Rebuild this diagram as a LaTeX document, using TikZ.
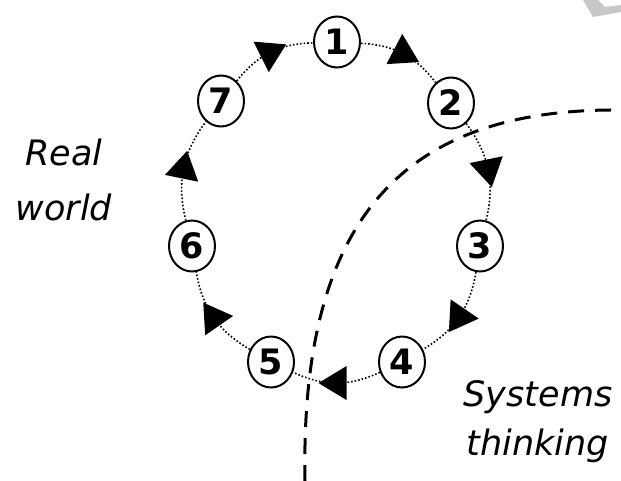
\documentclass[tikz,border=0pt]{standalone}
\usepackage{fontspec}
\setmainfont{DejaVu Sans}
\usetikzlibrary{shapes.geometric,decorations.markings}

\begin{document}
\begin{tikzpicture}[x=1pt,y=-1pt,
  stage/.style={ellipse,draw,line width=2pt,minimum width=46pt,minimum height=51pt,
    inner sep=0pt,font=\fontsize{35}{35}\selectfont\bfseries},
  flow/.style={line width=1.6pt,dash pattern=on 1.6pt off 2pt,
    postaction={decorate,decoration={markings,mark=at position 0.5 with
      {\fill (-10pt,17pt) -- (18pt,0pt) -- (-10pt,-17pt) -- cycle;}}}},
  border/.style={line width=3pt,dash pattern=on 16pt off 11pt},
  caption/.style={align=center,anchor=base,font=\itshape}]
\useasboundingbox (0,0) rectangle (621,480);
% faint mark in the corner
\fill[black!22] (583,0) -- (598,0) -- (605,7) -- (621,5) -- (621,12) -- (593,17) -- cycle;
% boundary of systems thinking, drawn from the bottom edge
\coordinate (foot) at (305,481);
\coordinate (edge) at (621,110);
\draw[border] (foot) .. controls (300,222) and (400,108) .. (edge);
% the seven stages
\node[stage] (s1) at (337,42) {1};
\node[stage] (s2) at (451,103) {2};
\node[stage] (s3) at (480,246) {3};
\node[stage] (s4) at (402,362) {4};
\node[stage] (s5) at (271,362) {5};
\node[stage] (s6) at (192,246) {6};
\node[stage] (s7) at (221,101) {7};
\draw[flow] (s1) to[bend left=25] (s2);
\draw[flow] (s2) to[bend left=25] (s3);
\draw[flow] (s3) to[bend left=25] (s4);
\draw[flow] (s4) to[bend left=25] (s5);
\draw[flow] (s5) to[bend left=25] (s6);
\draw[flow] (s6) to[bend left=25] (s7);
\draw[flow] (s7) to[bend left=25] (s1);
% labels (base is the last line)
\node[caption,font=\itshape\fontsize{35}{55}\selectfont] (real) at (64,220) {Real\\world};
\node[caption,font=\itshape\fontsize{35}{49}\selectfont] (sys) at (538,455) {Systems\\thinking};
\end{tikzpicture}
\end{document}
